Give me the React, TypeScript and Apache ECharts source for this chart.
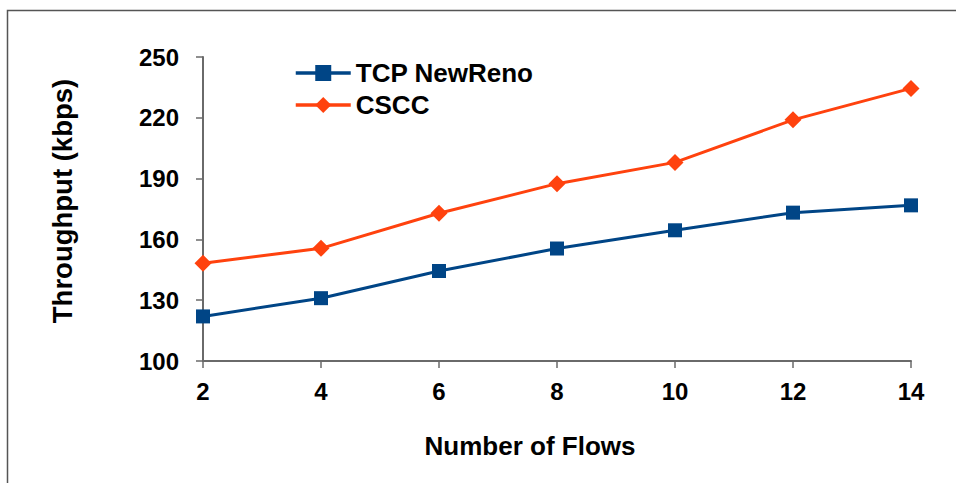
import React, { useEffect, useRef } from "react";
import * as echarts from "echarts";

const categories = ["2", "4", "6", "8", "10", "12", "14"];
const newRenoValues = [122, 131, 144.4, 155.5, 164.5, 173.2, 176.8];
const csccValues = [148.2, 155.6, 172.9, 187.5, 198, 219, 234.5];
const seriesNames = ["TCP NewReno", "CSCC"];

const FONT = "'Liberation Sans', Arial, sans-serif";

export default function App() {
  const ref = useRef<HTMLDivElement>(null);
  useEffect(() => {
    if (!ref.current) return;
    const chart = echarts.init(ref.current, undefined, { renderer: "svg" });
    const axisColor = "#6a6a6a";
    chart.setOption({
      animation: false,
      backgroundColor: "#ffffff",
      textStyle: { fontFamily: FONT },
      graphic: [
        {
          type: "rect",
          shape: { x: 7.5, y: 10.5, width: 1000, height: 1000 },
          style: { fill: "none", stroke: "#555555", lineWidth: 1.5 },
          silent: true,
          z: -1,
        },
      ],
      legend: {
        orient: "vertical",
        left: 289,
        top: 55,
        itemWidth: 55,
        itemHeight: 20,
        itemGap: 6,
        data: seriesNames,
        lineStyle: { width: 3.5 },
        textStyle: {
          fontFamily: FONT,
          fontWeight: "bold",
          fontSize: 26,
          color: "#000000",
          lineHeight: 26,
        },
      },
      grid: { left: 203, right: 45, top: 57, bottom: 122, containLabel: false },
      xAxis: {
        type: "category",
        data: categories,
        boundaryGap: false,
        name: "Number of Flows",
        nameLocation: "middle",
        nameGap: 72,
        nameTextStyle: {
          fontFamily: FONT,
          fontWeight: "bold",
          fontSize: 26,
          color: "#000",
          padding: [0, 54, 0, 0],
        },
        axisLine: { lineStyle: { color: axisColor, width: 2 } },
        axisTick: { show: true, length: 7, lineStyle: { color: axisColor, width: 1.5 } },
        axisLabel: { fontFamily: FONT, fontWeight: "bold", fontSize: 24, color: "#000", margin: 18 },
        splitLine: { show: false },
      },
      yAxis: {
        type: "value",
        min: 100,
        max: 250,
        interval: 30,
        name: "Throughput (kbps)",
        nameLocation: "middle",
        nameGap: 127,
        nameRotate: 90,
        nameTextStyle: {
          fontFamily: FONT,
          fontWeight: "bold",
          fontSize: 27.5,
          color: "#000",
          padding: [0, 0, 0, 16],
        },
        axisLine: { show: true, lineStyle: { color: axisColor, width: 2 } },
        axisTick: { show: true, length: 7, lineStyle: { color: axisColor, width: 1.5 } },
        axisLabel: { fontFamily: FONT, fontWeight: "bold", fontSize: 24, color: "#000", margin: 24 },
        splitLine: { show: false },
      },
      series: [
        {
          name: seriesNames[0],
          type: "line",
          data: newRenoValues,
          symbol: "rect",
          symbolSize: 14,
          color: "#004586",
          lineStyle: { color: "#004586", width: 3 },
          itemStyle: { color: "#004586" },
        },
        {
          name: seriesNames[1],
          type: "line",
          data: csccValues,
          symbol: "diamond",
          symbolSize: 17,
          color: "#ff420e",
          lineStyle: { color: "#ff420e", width: 3 },
          itemStyle: { color: "#ff420e" },
        },
      ],
    });
    return () => chart.dispose();
  }, []);
  return (
    <div
      ref={ref}
      style={{ position: "absolute", left: 0, top: 0, width: 956, height: 483 }}
    />
  );
}
